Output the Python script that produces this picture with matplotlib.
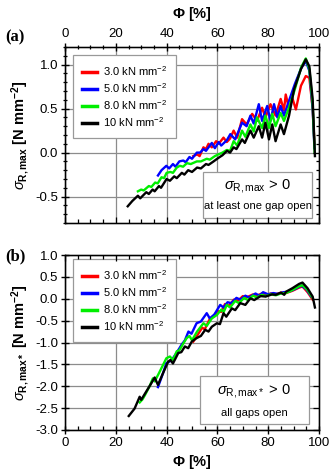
import numpy as np
import matplotlib
matplotlib.use('Agg')
from matplotlib import pyplot as plt
from matplotlib.ticker import MultipleLocator, FormatStrFormatter, NullLocator

plt.rcParams['font.family'] = ['Liberation Sans', 'DejaVu Sans']
plt.rcParams['mathtext.fontset'] = 'custom'
plt.rcParams['mathtext.rm'] = 'Liberation Sans'
plt.rcParams['mathtext.it'] = 'Liberation Sans:italic'
plt.rcParams['mathtext.bf'] = 'Liberation Sans:bold'

'''Data read off the figure'''
labels = ['3.0 kN mm$^{-2}$', '5.0 kN mm$^{-2}$', '8.0 kN mm$^{-2}$', '10 kN mm$^{-2}$']
colors = ['#ff0000', '#0000ff', '#00ee00', '#000000']

# panel (a): sigma_R,max
phi_a_red = [50.5, 52.0, 53.0, 54.5, 55.5, 56.5, 57.8, 59.5, 60.5, 62.4, 63.7, 65.0, 66.4, 67.8, 69.7, 71.5,
             73.7, 75.6, 77.6, 78.9, 80.9, 82.9, 84.9, 86.2, 86.9, 88.2, 89.5, 90.9, 92.9, 94.8, 96.2, 97.5, 98.2]
sig_a_red = [-0.04, -0.02, -0.04, 0.06, 0.04, 0.10, 0.06, 0.13, 0.10, 0.17, 0.12, 0.16, 0.25, 0.17, 0.38, 0.32,
             0.44, 0.36, 0.51, 0.40, 0.55, 0.42, 0.61, 0.48, 0.66, 0.50, 0.62, 0.49, 0.76, 0.87, 0.85, 0.50, 0.10]

phi_a_blue = [36.6, 38.0, 39.9, 41.0, 42.5, 43.5, 45.0, 46.6, 47.5, 49.0, 50.0, 51.9, 53.2, 54.5, 55.5, 57.8,
              59.0, 60.5, 61.5, 63.7, 65.1, 67.0, 69.7, 71.5, 73.0, 74.3, 76.3, 77.6, 79.6, 80.9, 82.3, 83.6,
              84.9, 86.2, 88.2, 90.5, 93.0, 94.8, 96.2, 97.5, 98.2]
sig_a_blue = [-0.26, -0.20, -0.15, -0.18, -0.13, -0.16, -0.10, -0.09, -0.11, -0.05, -0.07, 0.00, 0.00, 0.04, 0.02, 0.11,
              0.05, 0.12, 0.08, 0.14, 0.21, 0.15, 0.34, 0.30, 0.42, 0.33, 0.55, 0.36, 0.53, 0.36, 0.55, 0.40,
              0.53, 0.42, 0.59, 0.78, 0.96, 1.04, 0.93, 0.50, 0.05]

phi_a_green = [28.7, 30.0, 31.0, 33.0, 34.0, 35.5, 36.5, 38.0, 39.0, 40.0, 41.5, 42.5, 44.0, 45.2, 46.5, 48.0,
               49.5, 51.9, 53.5, 55.8, 57.0, 59.0, 60.4, 62.0, 63.7, 65.0, 66.4, 67.8, 69.7, 71.0, 73.0, 74.3,
               75.6, 77.6, 78.9, 80.3, 81.6, 82.9, 84.9, 86.2, 88.2, 90.5, 93.0, 94.8, 96.2, 97.5, 98.3]
sig_a_green = [-0.44, -0.42, -0.43, -0.38, -0.39, -0.34, -0.35, -0.28, -0.29, -0.23, -0.22, -0.23, -0.17, -0.15, -0.16, -0.12,
               -0.13, -0.10, -0.10, -0.07, -0.08, -0.04, -0.02, 0.00, 0.03, 0.02, 0.13, 0.08, 0.25, 0.18, 0.32, 0.24,
               0.40, 0.28, 0.42, 0.28, 0.44, 0.30, 0.45, 0.36, 0.51, 0.72, 0.97, 1.07, 0.95, 0.55, 0.00]

phi_a_black = [24.7, 26.5, 28.7, 29.6, 32.0, 33.0, 34.5, 35.3, 37.0, 37.8, 40.0, 41.3, 43.0, 44.0, 46.0, 47.0,
               48.5, 50.0, 52.0, 53.5, 55.5, 56.5, 58.5, 60.4, 62.0, 63.8, 65.0, 66.4, 67.5, 68.5, 69.7, 70.8,
               73.0, 74.3, 76.3, 77.6, 78.9, 80.3, 81.6, 82.9, 84.9, 86.2, 88.2, 90.2, 92.9, 94.8, 96.2, 97.5, 98.4]
sig_a_black = [-0.61, -0.55, -0.49, -0.52, -0.45, -0.47, -0.42, -0.44, -0.38, -0.40, -0.30, -0.32, -0.27, -0.29, -0.23, -0.25,
               -0.20, -0.22, -0.17, -0.18, -0.13, -0.14, -0.10, -0.06, -0.03, 0.02, 0.00, 0.06, 0.04, 0.09, 0.15, 0.11,
               0.25, 0.17, 0.30, 0.17, 0.34, 0.15, 0.32, 0.13, 0.32, 0.21, 0.42, 0.72, 0.95, 1.06, 0.98, 0.61, -0.04]

# panel (b): sigma_R,max*
phi_b_red = [50.5, 52.5, 54.0, 55.0, 57.1, 58.5, 60.0, 61.5, 63.0, 64.5, 66.5, 68.0, 70.0, 71.5, 74.0, 75.5,
             77.5, 79.0, 81.0, 83.0, 85.0, 87.0, 89.5, 92.0, 93.5, 95.5, 97.5]
sig_b_red = [-0.98, -0.80, -0.66, -0.70, -0.45, -0.40, -0.28, -0.30, -0.12, -0.16, -0.02, -0.05, 0.06, 0.03, 0.10, 0.07,
             0.12, 0.08, 0.12, 0.10, 0.14, 0.13, 0.18, 0.25, 0.28, 0.15, -0.02]

phi_b_blue = [36.6, 38.6, 39.9, 41.0, 42.0, 43.9, 45.9, 47.2, 48.6, 49.8, 51.8, 53.5, 55.8, 57.0, 58.8, 61.1,
              62.4, 64.0, 65.5, 67.5, 69.0, 71.0, 72.5, 75.0, 76.5, 78.0, 80.0, 82.0, 84.0, 86.0, 88.0, 90.5,
              93.0, 95.0, 97.0]
sig_b_blue = [-2.02, -1.70, -1.47, -1.44, -1.40, -1.24, -1.05, -0.95, -0.75, -0.80, -0.56, -0.52, -0.33, -0.45, -0.36, -0.14,
              -0.20, -0.08, -0.10, 0.02, -0.02, 0.07, 0.03, 0.12, 0.07, 0.15, 0.10, 0.13, 0.11, 0.15, 0.16, 0.22,
              0.30, 0.22, 0.05]

phi_b_green = [29.4, 30.5, 31.5, 33.3, 34.6, 35.3, 37.0, 39.9, 41.3, 42.5, 44.0, 45.0, 46.6, 47.9, 49.0, 50.0,
               52.0, 54.5, 55.8, 57.8, 59.8, 61.5, 62.5, 63.7, 65.0, 67.0, 68.5, 70.5, 72.0, 74.0, 75.5, 77.5,
               79.0, 81.0, 83.0, 85.0, 87.0, 89.5, 92.0, 93.5, 95.5, 97.5]
sig_b_green = [-2.37, -2.30, -2.20, -2.00, -1.82, -1.89, -1.70, -1.36, -1.32, -1.40, -1.20, -1.18, -1.02, -0.90, -0.85, -0.95,
               -0.75, -0.56, -0.62, -0.45, -0.37, -0.25, -0.30, -0.14, -0.20, -0.05, -0.10, 0.02, -0.03, 0.07, 0.03, 0.09,
               0.06, 0.10, 0.08, 0.12, 0.13, 0.20, 0.28, 0.31, 0.20, 0.02]

phi_b_black = [25.1, 27.4, 29.4, 30.0, 32.0, 34.0, 35.3, 36.6, 38.6, 40.6, 41.5, 42.5, 44.6, 45.8, 47.2, 48.5,
               49.9, 51.8, 53.5, 55.2, 56.5, 57.8, 59.8, 61.0, 62.4, 63.5, 65.7, 67.0, 69.0, 71.0, 73.0, 74.5,
               77.0, 79.0, 81.5, 83.0, 85.0, 86.3, 87.0, 89.5, 92.2, 93.5, 95.5, 97.5, 98.4]
sig_b_black = [-2.68, -2.51, -2.24, -2.31, -2.12, -1.93, -1.80, -1.97, -1.70, -1.44, -1.40, -1.48, -1.24, -1.22, -1.09, -1.13,
               -0.98, -0.90, -0.85, -0.71, -0.75, -0.64, -0.56, -0.58, -0.33, -0.41, -0.22, -0.26, -0.10, -0.14, 0.01, -0.03,
               0.06, 0.05, 0.10, 0.09, 0.14, 0.09, 0.16, 0.24, 0.34, 0.37, 0.24, 0.05, -0.20]

fig = plt.figure(figsize=(3.31, 4.76), dpi=100)
W, H = 331.0, 476.0
ax_a = fig.add_axes([65 / W, 1 - 223 / H, 254 / W, 176 / H])
ax_b = fig.add_axes([65 / W, 1 - 430 / H, 254 / W, 175 / H])
ax_a.set_ylim(-0.8, 1.2)
ax_b.set_ylim(-3.0, 1.0)


def style_axes(ax, top_labels, y_minor):
    ax.set_xlim(0, 100)
    # twins first: they reset the tick sides of the main axes
    sec = ax.twinx()
    sec.set_ylim(ax.get_ylim())
    sec.yaxis.set_major_locator(MultipleLocator(0.5))
    sec.yaxis.set_minor_locator(MultipleLocator(0.1) if y_minor else NullLocator())
    sec.tick_params(axis='y', which='both', direction='in', labelright=False, width=0.9)
    sec.tick_params(which='major', length=4)
    sec.tick_params(which='minor', length=2.5)
    twx = ax.twiny()
    twx.set_xlim(0, 100)
    twx.xaxis.set_major_locator(MultipleLocator(20))
    twx.xaxis.set_minor_locator(MultipleLocator(5))
    twx.tick_params(axis='x', which='both', direction='in', labeltop=False, labelbottom=False,
                    top=not top_labels, bottom=top_labels, width=0.9)
    twx.tick_params(which='major', length=4)
    twx.tick_params(which='minor', length=3)

    ax.xaxis.set_major_locator(MultipleLocator(20))
    ax.xaxis.set_minor_locator(MultipleLocator(5))
    ax.yaxis.set_major_locator(MultipleLocator(0.5))
    ax.yaxis.set_minor_locator(MultipleLocator(0.1) if y_minor else NullLocator())
    ax.grid(True, which='major', color='#8c8c8c', lw=0.9)
    ax.set_axisbelow(True)
    for s in ax.spines.values():
        s.set_linewidth(1.0)
    ax.tick_params(labelsize=9.5, width=1.0, pad=2)
    ax.tick_params(which='major', length=6)
    ax.tick_params(which='minor', length=3, width=0.9)
    ax.tick_params(axis='y', which='both', direction='inout', left=True, right=False)
    if top_labels:
        ax.tick_params(axis='x', which='both', direction='inout', top=True, labeltop=True,
                       bottom=False, labelbottom=False)
        ax.xaxis.set_label_position('top')
    else:
        ax.tick_params(axis='x', which='major', direction='inout', bottom=True, labelbottom=True,
                       top=False, labeltop=False)
        ax.tick_params(axis='x', which='minor', direction='in', bottom=True, top=False)
    ax.yaxis.set_major_formatter(FormatStrFormatter('%.1f'))
    ax.xaxis.set_major_formatter(FormatStrFormatter('%d'))


series_a = [(phi_a_red, sig_a_red), (phi_a_blue, sig_a_blue), (phi_a_green, sig_a_green), (phi_a_black, sig_a_black)]
series_b = [(phi_b_red, sig_b_red), (phi_b_blue, sig_b_blue), (phi_b_green, sig_b_green), (phi_b_black, sig_b_black)]

for ax, series, ytop in [(ax_a, series_a, 0.955), (ax_b, series_b, 0.977)]:
    for (x, y), c, lab in zip(series, colors, labels):
        ax.plot(x, y, color=c, lw=1.7, label=lab, zorder=3)
    leg = ax.legend(loc='upper left', bbox_to_anchor=(0.031, ytop), borderaxespad=0, fontsize=8,
                    handlelength=1.4, handletextpad=0.5, labelspacing=0.3, borderpad=0.8,
                    fancybox=False, framealpha=1)
    leg.get_frame().set_edgecolor('#999999')
    leg.get_frame().set_linewidth(0.9)
    leg.set_zorder(6)
    for h in leg.get_lines():
        h.set_linewidth(2.5)

style_axes(ax_a, True, True)
style_axes(ax_b, False, False)

ax_a.set_xlabel(r'$\mathbf{\Phi}$ [%]', fontsize=10.5, fontweight='bold', labelpad=7)
ax_b.set_xlabel(r'$\mathbf{\Phi}$ [%]', fontsize=10.5, fontweight='bold', labelpad=3)
ax_a.set_ylabel(r'$\sigma_{\mathrm{\mathbf{R,max}}}$ [N mm$^{\mathbf{-2}}$]', fontsize=10.5, fontweight='bold', labelpad=3)
ax_b.set_ylabel(r'$\sigma_{\mathrm{\mathbf{R,max*}}}$ [N mm$^{\mathbf{-2}}$]', fontsize=10.5, fontweight='bold', labelpad=3)

# boxes with notes
ax_a.add_patch(plt.Rectangle((0.543, 0.03), 0.43, 0.26, transform=ax_a.transAxes, fc='white',
                             ec='#999999', lw=0.9, zorder=5))
ax_a.text(0.758, 0.21, r'$\sigma_{\mathrm{R,max}}$ > 0', transform=ax_a.transAxes, ha='center', va='center',
          fontsize=10.5, zorder=6)
ax_a.text(0.758, 0.095, 'at least one gap open', transform=ax_a.transAxes, ha='center', va='center',
          fontsize=8, zorder=6)
ax_b.add_patch(plt.Rectangle((0.531, 0.035), 0.43, 0.275, transform=ax_b.transAxes, fc='white',
                             ec='#999999', lw=0.9, zorder=5))
ax_b.text(0.746, 0.22, r'$\sigma_{\mathrm{R,max*}}$ > 0', transform=ax_b.transAxes, ha='center', va='center',
          fontsize=10.5, zorder=6)
ax_b.text(0.746, 0.1, 'all gaps open', transform=ax_b.transAxes, ha='center', va='center',
          fontsize=8, zorder=6)

fig.text(5 / W, 1 - 37 / H, '(a)', fontsize=12, fontweight='bold', family='Liberation Serif', va='center')
fig.text(5 / W, 1 - 256 / H, '(b)', fontsize=12, fontweight='bold', family='Liberation Serif', va='center')

fig.savefig('out.png', dpi=100)
